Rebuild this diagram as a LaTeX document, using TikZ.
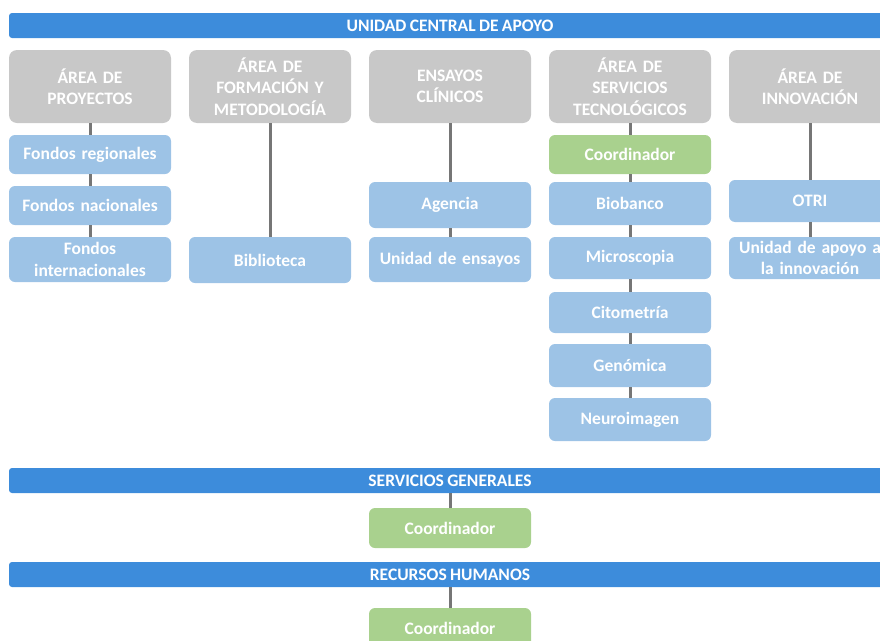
\documentclass[tikz,border=0pt]{standalone}
\usepackage{fontspec}
\setmainfont[WordSpace=0.85]{Carlito}
\definecolor{barblue}{HTML}{3D8CDB}
\definecolor{boxgray}{HTML}{C8C8C8}
\definecolor{boxblue}{HTML}{9DC3E6}
\definecolor{boxgreen}{HTML}{A9D18E}
\definecolor{linegray}{HTML}{767676}
\tikzset{
  base/.style={rounded corners=6pt, minimum width=162pt, text width=160pt, align=center,
    text=white, font=\bfseries\fontsize{17.5}{21.5}\selectfont, inner sep=0pt},
  head/.style={base, fill=boxgray, rounded corners=8pt, minimum height=73pt},
  unit/.style={base, fill=boxblue},
  coord/.style={base, fill=boxgreen},
  bar/.style={fill=barblue, rounded corners=3pt, minimum width=882pt, minimum height=25pt,
    text=white, font=\bfseries\fontsize{17.5}{20}\selectfont, inner sep=0pt},
  link/.style={draw=linegray, line width=3pt}
}
\begin{document}
\begin{tikzpicture}[x=1pt,y=-1pt]
\useasboundingbox (0,0) rectangle (880,640);
\clip (0,0) rectangle (880,640);
% bars
\node[bar] (top) at (450,25.5) {UNIDAD CENTRAL DE APOYO};
\node[bar] (sg) at (450,480.5) {SERVICIOS GENERALES};
\node[bar] (rh) at (450,574.5) {RECURSOS HUMANOS};
% heads
\node[head] (h1) at (90,86.5) {ÁREA DE\\PROYECTOS};
\node[head] (h2) at (270,86.5) {ÁREA DE\\FORMACIÓN Y\\METODOLOGÍA};
\node[head] (h3) at (450,86.5) {ENSAYOS\\CLÍNICOS};
\node[head] (h4) at (630,86.5) {ÁREA DE\\SERVICIOS\\TECNOLÓGICOS};
\node[head] (h5) at (810,86.5) {ÁREA DE\\INNOVACIÓN};
% column 1
\node[unit, minimum height=39pt] (fr) at (90,154.5) {Fondos regionales};
\node[unit, minimum height=39pt] (fn) at (90,205.5) {Fondos nacionales};
\node[unit, minimum height=45pt] (fi) at (90,259.5) {Fondos\\internacionales};
% column 2
\node[unit, minimum height=46pt] (bi) at (270,260) {Biblioteca};
% column 3
\node[unit, minimum height=46pt] (ag) at (450,205) {Agencia};
\node[unit, minimum height=45pt] (ue) at (450,259.5) {Unidad de ensayos};
% column 4
\node[coord, minimum height=39pt] (c4) at (630,154.5) {Coordinador};
\node[unit, minimum height=43pt] (bb) at (630,203.5) {Biobanco};
\node[unit, minimum height=42pt] (mi) at (630,258) {Microscopia};
\node[unit, minimum height=41pt] (ci) at (630,312.5) {Citometría};
\node[unit, minimum height=43pt] (ge) at (630,365.5) {Genómica};
\node[unit, minimum height=43pt] (ne) at (630,419.5) {Neuroimagen};
% column 5
\node[unit, minimum height=42pt] (ot) at (810,201) {OTRI};
\node[unit, minimum height=42pt] (ua) at (810,258) {Unidad de apoyo a\\la innovación};
% coordinators
\node[coord, minimum height=40pt] (sgc) at (450,528) {Coordinador};
\node[coord, minimum height=40pt] (rhc) at (450,628) {Coordinador};
% links
\draw[link] (h1) -- (fr);
\draw[link] (fr) -- (fn);
\draw[link] (fn) -- (fi);
\draw[link] (h2) -- (bi);
\draw[link] (h3) -- (ag);
\draw[link] (ag) -- (ue);
\draw[link] (h4) -- (c4);
\draw[link] (c4) -- (bb);
\draw[link] (bb) -- (mi);
\draw[link] (mi) -- (ci);
\draw[link] (ci) -- (ge);
\draw[link] (ge) -- (ne);
\draw[link] (h5) -- (ot);
\draw[link] (ot) -- (ua);
\draw[link] (sg) -- (sgc);
\draw[link] (rh) -- (rhc);
\end{tikzpicture}
\end{document}
